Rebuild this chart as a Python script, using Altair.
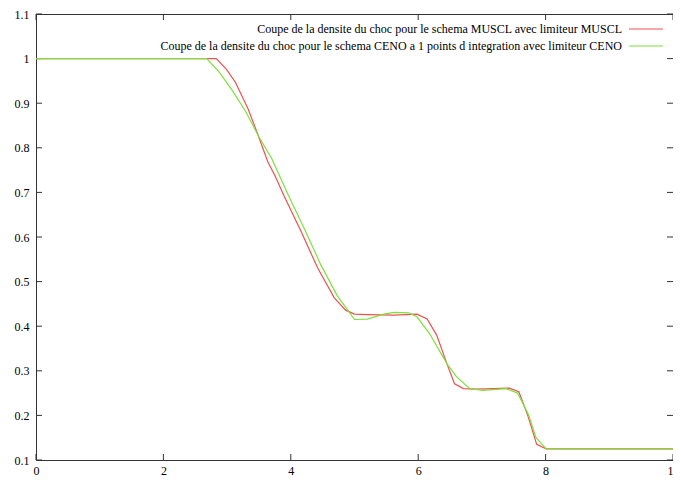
import altair as alt
import pandas as pd

# MUSCL (red)
muscl_x = [0, 2.83, 2.99, 3.13, 3.33, 3.49, 3.64, 3.75, 3.90, 4.16, 4.42, 4.68, 4.86, 5.0, 5.2, 5.62,
           5.98, 6.14, 6.29, 6.45, 6.57, 6.71, 6.91, 7.43, 7.58, 7.72, 7.86, 8.01, 10]
muscl_y = [1, 1, 0.976, 0.947, 0.887, 0.827, 0.768, 0.738, 0.690, 0.613, 0.531, 0.464, 0.436, 0.427,
           0.426, 0.425, 0.427, 0.416, 0.38, 0.316, 0.271, 0.26, 0.259, 0.261, 0.253, 0.2, 0.135, 0.125, 0.125]

# CENO (green)
ceno_x = [0, 2.68, 2.87, 3.07, 3.29, 3.49, 3.70, 3.96, 4.22, 4.47, 4.73, 4.92, 5.0, 5.2, 5.46, 5.62,
          5.85, 5.98, 6.18, 6.45, 6.60, 6.81, 7.02, 7.38, 7.56, 7.73, 7.85, 8.01, 10]
ceno_y = [1, 1, 0.971, 0.931, 0.882, 0.827, 0.776, 0.694, 0.616, 0.538, 0.468, 0.431, 0.415, 0.416,
          0.427, 0.431, 0.43, 0.421, 0.383, 0.316, 0.287, 0.26, 0.256, 0.26, 0.25, 0.202, 0.15, 0.125, 0.125]

labels = [
    "Coupe de la densite du choc pour le schema MUSCL avec limiteur MUSCL",
    "Coupe de la densite du choc pour le schema CENO a 1 points d integration avec limiteur CENO",
]
colors = ["#f05050", "#7ee03c"]

x_ticks = [0, 2, 4, 6, 8, 10]
y_ticks = [0.1, 0.2, 0.3, 0.4, 0.5, 0.6, 0.7, 0.8, 0.9, 1.0, 1.1]

W, H = 637, 446
FONT = "Liberation Serif"

df = pd.concat([
    pd.DataFrame({"x": muscl_x, "y": muscl_y, "s": labels[0], "o": range(len(muscl_x))}),
    pd.DataFrame({"x": ceno_x, "y": ceno_y, "s": labels[1], "o": range(len(ceno_x))}),
])

xs = alt.Scale(domain=[0, 10], nice=False, zero=False)
ys = alt.Scale(domain=[0.1, 1.1], nice=False, zero=False)

xaxis = alt.Axis(values=x_ticks, format="d", ticks=False, domain=False, grid=False,
                 labelPadding=5, labelFont=FONT, labelFontSize=12, labelColor="#000",
                 title=None, labelFlush=False, labelOverlap=False)
yaxis = alt.Axis(values=y_ticks, format="~g", ticks=False, domain=False, grid=False,
                 labelPadding=7, labelFont=FONT, labelFontSize=12, labelColor="#000",
                 title=None, labelFlush=False, labelOverlap=False)

lines = []
for lab, col in zip(labels, colors):
    lines.append(
        alt.Chart(df[df["s"] == lab]).mark_line(color=col, strokeWidth=1.2).encode(
            x=alt.X("x:Q", scale=xs, axis=xaxis),
            y=alt.Y("y:Q", scale=ys, axis=yaxis),
            order="o:Q",
        )
    )

tx = pd.DataFrame({"v": x_ticks})
ty = pd.DataFrame({"v": y_ticks})
tick_col = "#333333"
ticks = [
    alt.Chart(tx).mark_rule(color=tick_col).encode(x=alt.X("v:Q", scale=xs), y=alt.value(H), y2=alt.value(H - 6)),
    alt.Chart(tx).mark_rule(color=tick_col).encode(x=alt.X("v:Q", scale=xs), y=alt.value(0), y2=alt.value(6)),
    alt.Chart(ty).mark_rule(color=tick_col).encode(y=alt.Y("v:Q", scale=ys), x=alt.value(0), x2=alt.value(6)),
    alt.Chart(ty).mark_rule(color=tick_col).encode(y=alt.Y("v:Q", scale=ys), x=alt.value(W), x2=alt.value(W - 6)),
]

legend = []
for i, (lab, col) in enumerate(zip(labels, colors)):
    ldf = pd.DataFrame({"t": [lab]})
    yy = 15 + i * 17
    legend.append(
        alt.Chart(ldf).mark_text(align="right", baseline="middle", font=FONT, fontSize=12, color="#000").encode(
            text="t:N", x=alt.value(586), y=alt.value(yy)
        )
    )
    legend.append(
        alt.Chart(ldf).mark_rule(color=col, strokeWidth=1.2).encode(
            x=alt.value(593), x2=alt.value(627), y=alt.value(yy)
        )
    )

chart = alt.layer(*ticks, *lines, *legend).properties(
    width=W, height=H,
    autosize=alt.AutoSizeParams(type="none"),
    padding={"left": 28, "top": 6, "right": 0, "bottom": 18},
).configure_view(stroke="#333333", strokeWidth=1)

chart.save("out.html", embed_options={"renderer": "svg", "actions": False})
